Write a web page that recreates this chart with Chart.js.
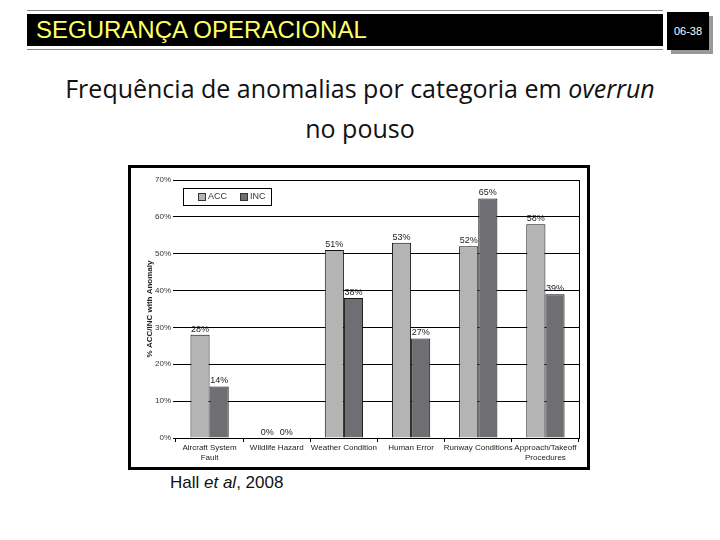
<!DOCTYPE html>
<html>
<head>
<meta charset="utf-8">
<script src="https://cdn.jsdelivr.net/npm/chart.js@4"></script>
<style>
  body { margin: 0; width: 720px; height: 540px; background: #fff; position: relative; overflow: hidden; font-family: "Liberation Sans", Arial, sans-serif; }
  .rule { position: absolute; left: 27px; width: 636px; height: 1px; background: #888; }
  #bar { position: absolute; left: 27px; top: 14px; width: 636px; height: 32px; background: #000; }
  #bar span { position: absolute; left: 9px; top: 2px; color: #ffff66; font-size: 24px; }
  #page { position: absolute; left: 667px; top: 12px; width: 42px; height: 38px; background: #000; box-shadow: 4px 4px 0 #999; color: #fff; font-size: 11px; text-align: center; line-height: 38px; }
  #heading { position: absolute; left: 0; top: 68px; width: 720px; text-align: center; font-family: "Open Sans", sans-serif; font-size: 25px; line-height: 40px; color: #111; }
  #frame { position: absolute; left: 128px; top: 165px; width: 456px; height: 299px; border: 3px solid #000; background: #fff; }
  #legend { position: absolute; left: 52px; top: 20px; width: 87px; height: 16px; border: 1px solid #000; font-size: 9px; color: #333; }
  #legend i { position: absolute; top: 4px; width: 6px; height: 6px; border: 1px solid #333; }
  #legend b { position: absolute; top: 2px; font-weight: normal; }
  #caption { position: absolute; left: 170px; top: 473px; font-size: 17px; color: #111; }
</style>
</head>
<body>
<div class="rule" style="top:10px"></div>
<div id="bar"><span>SEGURANÇA OPERACIONAL</span></div>
<div class="rule" style="top:49px"></div>
<div id="page">06-38</div>

<div id="heading">Frequência de anomalias por categoria em <i>overrun</i><br>no pouso</div>

<div id="frame">
  <canvas id="chart" width="456" height="299"></canvas>
  <div id="legend">
    <i style="left:14px;background:#b4b4b4"></i><b style="left:24px">ACC</b>
    <i style="left:56px;background:#6f6f73"></i><b style="left:66px">INC</b>
  </div>
</div>

<div id="caption">Hall <i>et al</i>, 2008</div>

<script>
// categories and values
var categories = [
  ["Aircraft System", "Fault"],
  "Wildlife Hazard",
  "Weather Condition",
  "Human Error",
  "Runway Conditions",
  ["Approach/Takeoff", "Procedures"]
];
var accValues = [28, 0, 51, 53, 52, 58];
var incValues = [14, 0, 38, 27, 65, 39];
var seriesNames = ["ACC", "INC"];

// draws "NN%" above each bar
var barLabels = {
  id: "barLabels",
  afterDatasetsDraw: function (chart) {
    var ctx = chart.ctx;
    ctx.save();
    ctx.font = "9px 'Liberation Sans', Arial, sans-serif";
    ctx.fillStyle = "#222";
    ctx.textAlign = "center";
    ctx.textBaseline = "bottom";
    chart.data.datasets.forEach(function (ds, i) {
      chart.getDatasetMeta(i).data.forEach(function (bar, j) {
        ctx.fillText(ds.data[j] + "%", bar.x, bar.y - 1);
      });
    });
    ctx.restore();
  }
};

// right border of the plot area
var rightEdge = {
  id: "rightEdge",
  afterDraw: function (chart) {
    var a = chart.chartArea;
    var ctx = chart.ctx;
    ctx.save();
    ctx.strokeStyle = "#000";
    ctx.lineWidth = 1;
    ctx.beginPath();
    ctx.moveTo(a.right + 0.5, a.top);
    ctx.lineTo(a.right + 0.5, a.bottom);
    ctx.stroke();
    ctx.restore();
  }
};

var ctx = document.getElementById("chart").getContext("2d");
new Chart(ctx, {
  type: "bar",
  data: {
    labels: categories,
    datasets: [
      {
        label: seriesNames[0],
        data: accValues,
        backgroundColor: "#b4b4b4",
        borderColor: "#111",
        borderWidth: 1
      },
      {
        label: seriesNames[1],
        data: incValues,
        backgroundColor: "#6f6f73",
        borderColor: "#111",
        borderWidth: 1
      }
    ]
  },
  options: {
    responsive: false,
    animation: false,
    layout: { padding: { left: 14, right: 8, top: 12, bottom: 0 } },
    datasets: { bar: { categoryPercentage: 0.57, barPercentage: 1.0 } },
    plugins: {
      legend: { display: false },
      tooltip: { enabled: false }
    },
    scales: {
      x: {
        grid: { drawOnChartArea: false, drawTicks: true, tickLength: 4, color: "#000", offset: true },
        border: { display: true, color: "#000" },
        ticks: { color: "#222", font: { size: 8, family: "'Liberation Sans', Arial" }, maxRotation: 0, autoSkip: false, padding: 1 },
        afterFit: function (scale) { scale.height = 29; }
      },
      y: {
        min: 0,
        max: 70,
        grid: { color: "#000", lineWidth: 1, drawTicks: true, tickLength: 3 },
        border: { display: false },
        ticks: {
          stepSize: 10,
          color: "#333",
          font: { size: 8, family: "'Liberation Sans', Arial" },
          padding: 2,
          callback: function (v) { return v + "%"; }
        },
        title: {
          display: true,
          text: "% ACC/INC with Anomaly",
          color: "#222",
          font: { size: 8, weight: "bold", family: "'Liberation Sans', Arial" },
          padding: 0
        },
        afterFit: function (scale) { scale.width = 31; }
      }
    }
  },
  plugins: [barLabels, rightEdge]
});
</script>
</body>
</html>
